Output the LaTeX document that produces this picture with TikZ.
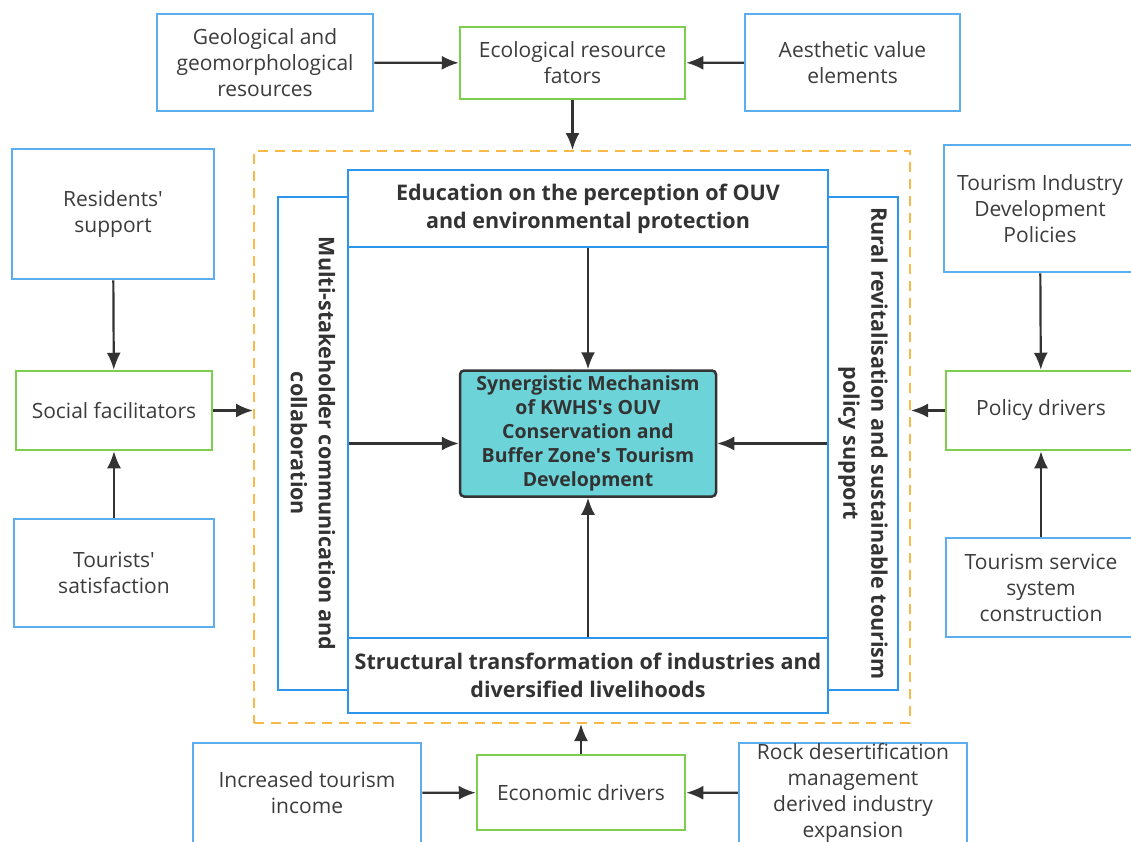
\documentclass[tikz,border=0pt]{standalone}
\usepackage{fontspec}
\setmainfont{Open Sans}
\usetikzlibrary{arrows.meta}

\definecolor{srcblue}{HTML}{5DAEEE}
\definecolor{dimblue}{HTML}{2E96EA}
\definecolor{drvgreen}{HTML}{7DCE4F}
\definecolor{frmorange}{HTML}{F8B84A}
\definecolor{coreteal}{HTML}{6CD4D8}
\definecolor{txtgray}{HTML}{3C3C3C}
\definecolor{arrgray}{HTML}{333333}

\tikzset{
  srcbox/.style={draw=srcblue, line width=2.5pt, fill=white, align=center, inner sep=0pt,
    text=txtgray, font=\fontsize{21}{26}\selectfont},
  drvbox/.style={srcbox, draw=drvgreen},
  dimbox/.style={draw=dimblue, line width=2.5pt, fill=white, align=center, inner sep=0pt,
    text=arrgray, font=\bfseries\fontsize{21.5}{28}\selectfont},
  corebox/.style={draw=arrgray, line width=2.5pt, fill=coreteal, rounded corners=4pt, align=center,
    inner sep=0pt, text=arrgray, font=\bfseries\fontsize{19.5}{24}\selectfont},
  frame/.style={draw=frmorange, line width=2pt, dash pattern=on 10pt off 7pt, inner sep=0pt},
  arr/.style={-{Latex[length=17pt,width=14pt]}, line width=2.2pt, draw=arrgray},
}

\begin{document}
\begin{tikzpicture}[x=1pt,y=-1pt]
  \fill[white] (0,0) rectangle (1131,841);
  \useasboundingbox (0,0) rectangle (1131,841);

  % dashed frame round the dimensions
  \node[frame, minimum width=656, minimum height=572] (frm) at (582,437) {};

  % top row
  \node[srcbox, minimum width=216, minimum height=97] (geo) at (265,62.5) {Geological and\\geomorphological\\resources};
  \node[drvbox, minimum width=225, minimum height=72] (eco) at (572.5,63) {Ecological resource\\fators};
  \node[srcbox, minimum width=215, minimum height=97] (aes) at (852.5,62.5) {Aesthetic value\\elements};

  % left column
  \node[srcbox, minimum width=202, minimum height=130] (res) at (113,214) {Residents\textquotesingle\\support};
  \node[drvbox, minimum width=196, minimum height=79] (soc) at (114,410.5) {Social facilitators};
  \node[srcbox, minimum width=200, minimum height=108] (tou) at (114,573) {Tourists\textquotesingle\\satisfaction};

  % right column
  \node[srcbox, minimum width=192, minimum height=127] (tid) at (1040,208.5) {Tourism Industry\\Development\\Policies};
  \node[drvbox, minimum width=190, minimum height=79] (pol) at (1041,410.5) {Policy drivers};
  \node[srcbox, minimum width=190, minimum height=99] (tss) at (1041,587.5) {Tourism service\\system\\construction};

  % bottom row
  \node[srcbox, minimum width=228, minimum height=100] (inc) at (307,793) {Increased tourism\\income};
  \node[drvbox, minimum width=208, minimum height=75] (ecn) at (581,792.5) {Economic drivers};
  \node[srcbox, minimum width=228, minimum height=100] (rock) at (853,793) {Rock desertification\\management\\derived industry\\expansion};

  % inner dimensions
  \node[dimbox, rotate=-90, minimum width=493, minimum height=70] (msc) at (313,443.5) {Multi-stakeholder communication and\\collaboration};
  \node[dimbox, rotate=-90, minimum width=493, minimum height=70] (rur) at (863,443.5) {Rural revitalisation and sustainable tourism\\policy support};
  \node[dimbox, minimum width=480, minimum height=77] (edu) at (588,208.5) {Education on the perception of OUV\\and environmental protection};
  \node[dimbox, minimum width=480, minimum height=75] (str) at (588,675.5) {Structural transformation of industries and\\diversified livelihoods};
  \node[corebox, minimum width=256, minimum height=126] (core) at (588,433.5) {Synergistic Mechanism\\of KWHS\textquotesingle s OUV\\Conservation and\\Buffer Zone\textquotesingle s Tourism\\Development};

  % connectors
  \draw[arr] (geo) -- (eco);
  \draw[arr] (aes) -- (eco);
  \draw[arr] (eco) -- (eco |- frm.north);
  \draw[arr] (res) -- (soc);
  \draw[arr] (tou) -- (soc);
  \draw[arr] (soc) -- (soc -| frm.west);
  \draw[arr] (tid) -- (pol);
  \draw[arr] (tss) -- (pol);
  \draw[arr] (pol) -- (pol -| frm.east);
  \draw[arr] (inc) -- (ecn);
  \draw[arr] (rock) -- (ecn);
  \draw[arr] (ecn) -- (ecn |- frm.south);
  \draw[arr] (edu) -- (core);
  \draw[arr] (str) -- (core);
  \draw[arr] (msc.north) -- (msc.north -| core.west);
  \draw[arr] (rur.south) -- (rur.south -| core.east);
\end{tikzpicture}
\end{document}
